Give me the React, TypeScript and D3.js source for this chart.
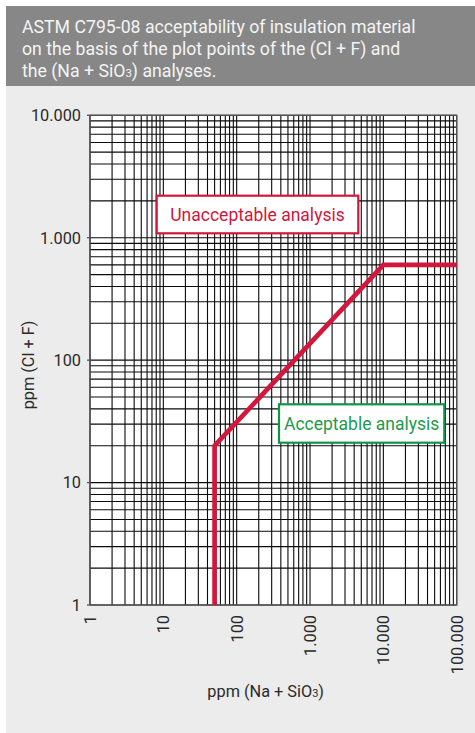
import React from "react";
import * as d3 from "d3";

const titleLines = [
  "ASTM C795-08 acceptability of insulation material",
  "on the basis of the plot points of the (Cl + F) and",
];
const xDomain = [1, 100000];
const yDomain = [1, 10000];
const xTicks = [1, 10, 100, 1000, 10000, 100000];
const yTicks = [1, 10, 100, 1000, 10000];
const limitX = [50, 50, 10000, 100000];
const limitY = [1, 20, 600, 600];
const yAxisTitle = "ppm (Cl + F)";
const unacceptableLabel = "Unacceptable analysis";
const acceptableLabel = "Acceptable analysis";

const W = 475;
const H = 733;
const left = 90;
const right = 456.7;
const top = 115.3;
const bottom = 605;
const FONT = "Roboto, 'DejaVu Sans', sans-serif";
const RED = "#d2163c";
const GREEN = "#1e9a4e";

const locale = d3.formatLocale({
  decimal: ",",
  thousands: ".",
  grouping: [3],
  currency: ["", ""],
});
const fmt = locale.format(",d");

export default function App() {
  const x = d3.scaleLog().domain(xDomain).range([left, right]);
  const y = d3.scaleLog().domain(yDomain).range([bottom, top]);
  const xGrid = x.ticks();
  const yGrid = y.ticks();
  const line = d3
    .line<number>()
    .x((_, i) => x(limitX[i]))
    .y((d) => y(d));
  const pathD = line(limitY) || "";

  return (
    <svg
      width={W}
      height={H}
      style={{ position: "absolute", left: 0, top: 0 }}
      fontFamily={FONT}
    >
      <rect x={0} y={0} width={W} height={H} fill="#ffffff" />
      <rect x={6} y={6} width={W - 6} height={H - 6} fill="#ececec" />
      <rect x={6} y={6} width={W - 6} height={80} fill="#878787" />
      {titleLines.map((t, i) => (
        <text key={i} x={22} y={33.3 + i * 22} fill="#f4f4f4" fontSize={17.7}>
          {t}
        </text>
      ))}
      <text x={22} y={33.3 + 2 * 22} fill="#f4f4f4" fontSize={17.7}>
        the (Na + SiO<tspan fontSize={11.5}>3</tspan>) analyses.
      </text>

      <rect x={left} y={top} width={right - left} height={bottom - top} fill="#ffffff" />
      <g stroke="#0a0a0a" strokeWidth={1.1}>
        {xGrid.map((v, i) => (
          <line key={"x" + i} x1={x(v)} x2={x(v)} y1={top} y2={bottom} />
        ))}
        {yGrid.map((v, i) => (
          <line key={"y" + i} x1={left} x2={right} y1={y(v)} y2={y(v)} />
        ))}
      </g>
      <rect
        x={left}
        y={top}
        width={right - left}
        height={bottom - top}
        fill="none"
        stroke="#555"
        strokeWidth={1.3}
      />

      <path d={pathD} fill="none" stroke={RED} strokeWidth={4.7} strokeLinejoin="miter" />

      {yTicks.map((v) => (
        <g key={"yt" + v}>
          <line x1={87} x2={left} y1={y(v)} y2={y(v)} stroke="#555" strokeWidth={1.3} />
          <text x={81} y={y(v)} dy="0.36em" textAnchor="end" fontSize={16.3} fill="#2a2a2a">
            {fmt(v)}
          </text>
        </g>
      ))}
      {xTicks.map((v) => (
        <text
          key={"xt" + v}
          transform={`translate(${x(v)},615) rotate(-90)`}
          dy="0.36em"
          textAnchor="end"
          fontSize={16.3}
          fill="#2a2a2a"
        >
          {fmt(v)}
        </text>
      ))}

      <text
        transform={`translate(33.5,365) rotate(-90)`}
        textAnchor="middle"
        fontSize={16.3}
        fill="#2a2a2a"
      >
        {yAxisTitle}
      </text>
      <text x={265.7} y={697} textAnchor="middle" fontSize={16.3} fill="#2a2a2a">
        ppm (Na + SiO<tspan fontSize={11}>3</tspan>)
      </text>

      <rect x={156.7} y={195.7} width={201.6} height={37.6} fill="#fff" stroke={RED} strokeWidth={2.2} />
      <text x={257.5} y={214.5} dy="0.36em" textAnchor="middle" fontSize={17.5} fill={RED}>
        {unacceptableLabel}
      </text>
      <rect x={279} y={404.3} width={165.3} height={38.4} fill="#fff" stroke="#0f9448" strokeWidth={2.2} />
      <text x={361.7} y={423.5} dy="0.36em" textAnchor="middle" fontSize={17.5} fill={GREEN}>
        {acceptableLabel}
      </text>
    </svg>
  );
}
